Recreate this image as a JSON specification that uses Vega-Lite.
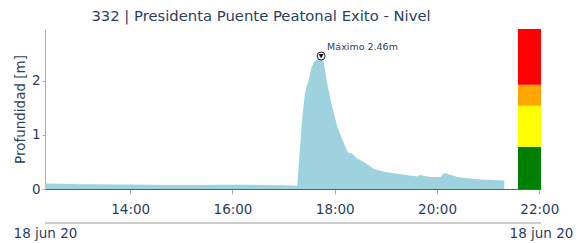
{
  "$schema": "https://vega.github.io/schema/vega-lite/v6.json",
  "width": 496,
  "height": 160,
  "autosize": {"type": "none"},
  "padding": {"left": 45, "top": 29, "right": 44, "bottom": 54},
  "background": "white",
  "config": {"view": {"stroke": null}, "font": "DejaVu Sans"},
  "title": {
    "text": "332 | Presidenta Puente Peatonal Exito - Nivel",
    "fontSize": 14.8,
    "fontWeight": "normal",
    "color": "#2a3f5f",
    "font": "DejaVu Sans",
    "anchor": "middle",
    "dx": -32,
    "offset": 5
  },
  "datasets": {
    "nivel": [
      {"t": "2020-06-18T12:20:00", "v": 0.10},
      {"t": "2020-06-18T12:40:00", "v": 0.095},
      {"t": "2020-06-18T13:00:00", "v": 0.09},
      {"t": "2020-06-18T13:20:00", "v": 0.09},
      {"t": "2020-06-18T13:40:00", "v": 0.085},
      {"t": "2020-06-18T14:00:00", "v": 0.085},
      {"t": "2020-06-18T14:20:00", "v": 0.08},
      {"t": "2020-06-18T14:40:00", "v": 0.075},
      {"t": "2020-06-18T15:00:00", "v": 0.075},
      {"t": "2020-06-18T15:20:00", "v": 0.075},
      {"t": "2020-06-18T15:40:00", "v": 0.08},
      {"t": "2020-06-18T16:00:00", "v": 0.08},
      {"t": "2020-06-18T16:20:00", "v": 0.08},
      {"t": "2020-06-18T16:40:00", "v": 0.075},
      {"t": "2020-06-18T17:00:00", "v": 0.07},
      {"t": "2020-06-18T17:16:00", "v": 0.06},
      {"t": "2020-06-18T17:19:00", "v": 0.72},
      {"t": "2020-06-18T17:22:00", "v": 1.34},
      {"t": "2020-06-18T17:25:00", "v": 1.77},
      {"t": "2020-06-18T17:27:00", "v": 1.89},
      {"t": "2020-06-18T17:29:00", "v": 1.99},
      {"t": "2020-06-18T17:33:00", "v": 2.26},
      {"t": "2020-06-18T17:36:00", "v": 2.36},
      {"t": "2020-06-18T17:41:00", "v": 2.41},
      {"t": "2020-06-18T17:44:00", "v": 2.46},
      {"t": "2020-06-18T17:47:00", "v": 2.36},
      {"t": "2020-06-18T17:51:00", "v": 1.96},
      {"t": "2020-06-18T17:57:00", "v": 1.52},
      {"t": "2020-06-18T18:03:00", "v": 1.15},
      {"t": "2020-06-18T18:09:00", "v": 0.91},
      {"t": "2020-06-18T18:14:00", "v": 0.72},
      {"t": "2020-06-18T18:16:00", "v": 0.67},
      {"t": "2020-06-18T18:20:00", "v": 0.66},
      {"t": "2020-06-18T18:26:00", "v": 0.57},
      {"t": "2020-06-18T18:36:00", "v": 0.48},
      {"t": "2020-06-18T18:46:00", "v": 0.37},
      {"t": "2020-06-18T18:58:00", "v": 0.32},
      {"t": "2020-06-18T19:13:00", "v": 0.28},
      {"t": "2020-06-18T19:37:00", "v": 0.23},
      {"t": "2020-06-18T19:40:00", "v": 0.26},
      {"t": "2020-06-18T19:52:00", "v": 0.22},
      {"t": "2020-06-18T20:04:00", "v": 0.22},
      {"t": "2020-06-18T20:08:00", "v": 0.29},
      {"t": "2020-06-18T20:12:00", "v": 0.28},
      {"t": "2020-06-18T20:24:00", "v": 0.22},
      {"t": "2020-06-18T20:43:00", "v": 0.185},
      {"t": "2020-06-18T20:59:00", "v": 0.17},
      {"t": "2020-06-18T21:19:00", "v": 0.155}
    ],
    "niveles": [
      {"nivel": "normal", "y0": 0, "y1": 0.78},
      {"nivel": "alerta", "y0": 0.78, "y1": 1.54},
      {"nivel": "precaucion", "y0": 1.54, "y1": 1.93},
      {"nivel": "critico", "y0": 1.93, "y1": 2.96}
    ],
    "maximo": [
      {"t": "2020-06-18T17:44:00", "v": 2.46, "label": "Máximo 2.46m"}
    ]
  },
  "resolve": {"axis": {"x": "independent", "y": "independent"}},
  "layer": [
    {
      "data": {"name": "niveles"},
      "mark": {"type": "rect"},
      "encoding": {
        "x": {"datum": {"year": 2020, "month": 6, "date": 18, "hours": 21, "minutes": 35}, "type": "temporal", "axis": null,
              "scale": {"domain": [{"year": 2020, "month": 6, "date": 18, "hours": 12, "minutes": 20}, {"year": 2020, "month": 6, "date": 18, "hours": 22, "minutes": 2}]}},
        "x2": {"datum": {"year": 2020, "month": 6, "date": 18, "hours": 22, "minutes": 2}},
        "y": {"field": "y0", "type": "quantitative", "axis": null, "scale": {"domain": [0, 2.96]}},
        "y2": {"field": "y1"},
        "color": {"field": "nivel", "type": "nominal", "legend": null,
                  "scale": {"domain": ["normal", "alerta", "precaucion", "critico"], "range": ["#008000", "#ffff00", "#ffa500", "#ff0000"]}}
      }
    },
    {
      "data": {"values": [{}]},
      "mark": {"type": "rule", "color": "#9a9a9a", "strokeWidth": 1, "clip": false},
      "encoding": {
        "x": {"datum": {"year": 2020, "month": 6, "date": 18, "hours": 12, "minutes": 20}, "type": "temporal", "axis": null,
              "scale": {"domain": [{"year": 2020, "month": 6, "date": 18, "hours": 12, "minutes": 20}, {"year": 2020, "month": 6, "date": 18, "hours": 22, "minutes": 2}]}},
        "x2": {"datum": {"year": 2020, "month": 6, "date": 18, "hours": 22, "minutes": 2}},
        "y": {"datum": -0.629, "type": "quantitative", "axis": null, "scale": {"domain": [0, 2.96]}}
      }
    },
    {
      "data": {"name": "nivel"},
      "mark": {"type": "area", "color": "#9ed2df", "opacity": 1, "interpolate": "linear"},
      "encoding": {
        "x": {"field": "t", "type": "temporal",
              "scale": {"domain": [{"year": 2020, "month": 6, "date": 18, "hours": 12, "minutes": 20}, {"year": 2020, "month": 6, "date": 18, "hours": 22, "minutes": 2}]},
              "axis": {"orient": "bottom", "title": null, "grid": false, "format": "%H:%M",
                       "values": [{"year": 2020, "month": 6, "date": 18, "hours": 14}, {"year": 2020, "month": 6, "date": 18, "hours": 16}, {"year": 2020, "month": 6, "date": 18, "hours": 18}, {"year": 2020, "month": 6, "date": 18, "hours": 20}, {"year": 2020, "month": 6, "date": 18, "hours": 22}],
                       "labelFontSize": 13.5, "labelColor": "#2a3f5f", "labelFont": "DejaVu Sans", "labelPadding": 8,
                       "tickSize": 5, "tickColor": "#aaaaaa", "domainColor": "#555f6a", "domainWidth": 1, "labelFlush": false, "labelOverlap": false}},
        "y": {"field": "v", "type": "quantitative", "scale": {"domain": [0, 2.96]},
              "axis": {"orient": "left", "title": "Profundidad [m]", "values": [0, 1, 2], "grid": false, "format": "d",
                       "labelFontSize": 13.5, "labelColor": "#2a3f5f", "labelFont": "DejaVu Sans", "labelPadding": 2,
                       "tickSize": 3, "tickColor": "#aaaaaa", "domainColor": "#aaaaaa",
                       "titleFontSize": 13.5, "titleFontWeight": "normal", "titleColor": "#2a3f5f", "titleFont": "DejaVu Sans", "titlePadding": 4}}
      }
    },
    {
      "data": {"name": "maximo"},
      "mark": {"type": "point", "shape": "circle", "filled": true, "fill": "white", "stroke": "#222222", "strokeWidth": 1, "size": 64, "opacity": 1},
      "encoding": {
        "x": {"field": "t", "type": "temporal",
              "scale": {"domain": [{"year": 2020, "month": 6, "date": 18, "hours": 12, "minutes": 20}, {"year": 2020, "month": 6, "date": 18, "hours": 22, "minutes": 2}]},
              "axis": {"orient": "bottom", "title": null, "grid": false, "offset": 34, "domain": false,
                       "values": [{"year": 2020, "month": 6, "date": 18, "hours": 12, "minutes": 20}, {"year": 2020, "month": 6, "date": 18, "hours": 22, "minutes": 2}],
                       "labelExpr": "'18 jun 20'", "labelFontSize": 13.5, "labelColor": "#2a3f5f", "labelFont": "DejaVu Sans",
                       "labelPadding": 3, "tickSize": 0, "labelFlush": false, "labelOverlap": false, "labelBound": false}},
        "y": {"field": "v", "type": "quantitative", "scale": {"domain": [0, 2.96]}, "axis": null}
      }
    },
    {
      "data": {"name": "maximo"},
      "mark": {"type": "point", "shape": "triangle-down", "filled": true, "color": "#111111", "size": 24, "opacity": 1},
      "encoding": {
        "x": {"field": "t", "type": "temporal", "axis": null,
              "scale": {"domain": [{"year": 2020, "month": 6, "date": 18, "hours": 12, "minutes": 20}, {"year": 2020, "month": 6, "date": 18, "hours": 22, "minutes": 2}]}},
        "y": {"field": "v", "type": "quantitative", "scale": {"domain": [0, 2.96]}, "axis": null}
      }
    },
    {
      "data": {"name": "maximo"},
      "mark": {"type": "text", "align": "left", "baseline": "middle", "dx": 6, "dy": -9, "fontSize": 9.5, "color": "#2a3f5f", "font": "DejaVu Sans"},
      "encoding": {
        "x": {"field": "t", "type": "temporal", "axis": null,
              "scale": {"domain": [{"year": 2020, "month": 6, "date": 18, "hours": 12, "minutes": 20}, {"year": 2020, "month": 6, "date": 18, "hours": 22, "minutes": 2}]}},
        "y": {"field": "v", "type": "quantitative", "scale": {"domain": [0, 2.96]}, "axis": null},
        "text": {"field": "label"}
      }
    }
  ]
}
